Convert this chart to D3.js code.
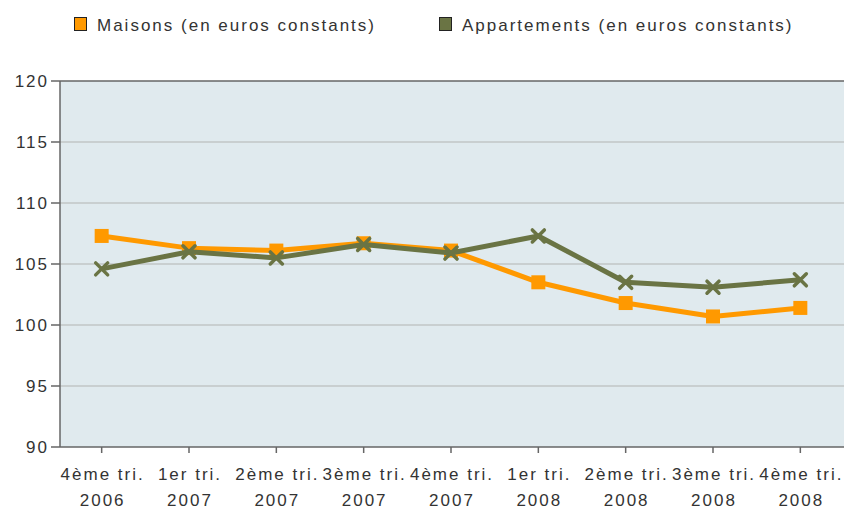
<!DOCTYPE html>
<html>
<head>
<meta charset="utf-8">
<script src="https://cdn.jsdelivr.net/npm/d3@7"></script>
<style>
  body { margin: 0; background: #fff; }
  text { font-family: "Liberation Sans", Arial, sans-serif; fill: #333; }
</style>
</head>
<body>
<div id="chart"></div>
<script>
// Data
const quarters = [
    ['4ème tri.', '2006'], ['1er tri.', '2007'], ['2ème tri.', '2007'],
    ['3ème tri.', '2007'], ['4ème tri.', '2007'], ['1er tri.', '2008'],
    ['2ème tri.', '2008'], ['3ème tri.', '2008'], ['4ème tri.', '2008']
];
const maisons = [107.3, 106.3, 106.1, 106.7, 106.1, 103.5, 101.8, 100.7, 101.4];
const appartements = [104.6, 106.0, 105.5, 106.6, 105.9, 107.3, 103.5, 103.1, 103.7];
const yTicks = [90, 95, 100, 105, 110, 115, 120];
const seriesNames = ['Maisons (en euros constants)', 'Appartements (en euros constants)'];

const width = 844, height = 509;
const plot = { left: 60, right: 844, top: 81, bottom: 447 };
const orange = '#ff9900', olive = '#6a7444';

const svg = d3.select('#chart').append('svg')
    .attr('width', width)
    .attr('height', height);

const x = d3.scaleBand()
    .domain(d3.range(quarters.length))
    .range([58, 844]);

const y = d3.scaleLinear()
    .domain([90, 120])
    .range([plot.bottom, plot.top]);

// Plot background
svg.append('rect')
    .attr('x', plot.left)
    .attr('y', plot.top)
    .attr('width', plot.right - plot.left)
    .attr('height', plot.bottom - plot.top)
    .attr('fill', '#e0eaee');

// Gridlines
svg.selectAll('.grid')
    .data(yTicks.filter(t => t !== 90 && t !== 120))
    .enter()
    .append('line')
    .attr('x1', plot.left)
    .attr('x2', plot.right)
    .attr('y1', d => y(d))
    .attr('y2', d => y(d))
    .attr('stroke', '#c2c6c6')
    .attr('stroke-width', 1.5);

// Borders
svg.append('line')
    .attr('x1', plot.left).attr('x2', plot.right)
    .attr('y1', plot.top).attr('y2', plot.top)
    .attr('stroke', '#666').attr('stroke-width', 1.5);
svg.append('line')
    .attr('x1', plot.left).attr('x2', plot.right)
    .attr('y1', plot.bottom).attr('y2', plot.bottom)
    .attr('stroke', '#666').attr('stroke-width', 1.5);
svg.append('line')
    .attr('x1', plot.left).attr('x2', plot.left)
    .attr('y1', plot.top).attr('y2', plot.bottom)
    .attr('stroke', '#666').attr('stroke-width', 1.5);

// Y axis ticks and labels
yTicks.forEach(t => {
    svg.append('line')
        .attr('x1', 51).attr('x2', plot.left)
        .attr('y1', y(t)).attr('y2', y(t))
        .attr('stroke', '#666').attr('stroke-width', 1.5);
    svg.append('text')
        .attr('x', 49)
        .attr('y', y(t))
        .attr('dy', '0.35em')
        .attr('text-anchor', 'end')
        .attr('font-size', '17px')
        .attr('letter-spacing', '2px')
        .text(t);
});

// X axis ticks and labels
quarters.forEach((q, i) => {
    const cx = x(i) + x.bandwidth() / 2;
    svg.append('line')
        .attr('x1', cx).attr('x2', cx)
        .attr('y1', plot.bottom).attr('y2', plot.bottom + 6)
        .attr('stroke', '#666').attr('stroke-width', 1.5);
    const t = svg.append('text')
        .attr('text-anchor', 'middle')
        .attr('font-size', '17px')
        .attr('letter-spacing', '2px');
    t.append('tspan').attr('x', cx + 1).attr('y', 480).text(q[0]);
    t.append('tspan').attr('x', cx + 1).attr('y', 506).text(q[1]);
});

const line = d3.line()
    .x((d, i) => x(i) + x.bandwidth() / 2)
    .y(d => y(d));

// Maisons line + square markers
svg.append('path')
    .datum(maisons)
    .attr('d', line)
    .attr('fill', 'none')
    .attr('stroke', orange)
    .attr('stroke-width', 5)
    .attr('stroke-linejoin', 'round');

svg.selectAll('.sq')
    .data(maisons)
    .enter()
    .append('rect')
    .attr('x', (d, i) => x(i) + x.bandwidth() / 2 - 7)
    .attr('y', d => y(d) - 7)
    .attr('width', 14)
    .attr('height', 14)
    .attr('fill', orange);

// Appartements line + cross markers
svg.append('path')
    .datum(appartements)
    .attr('d', line)
    .attr('fill', 'none')
    .attr('stroke', olive)
    .attr('stroke-width', 5)
    .attr('stroke-linejoin', 'round');

svg.selectAll('.cross')
    .data(appartements)
    .enter()
    .append('path')
    .attr('transform', (d, i) => `translate(${x(i) + x.bandwidth() / 2},${y(d)})`)
    .attr('d', 'M-6,-6L6,6M-6,6L6,-6')
    .attr('stroke', olive)
    .attr('stroke-width', 3.5)
    .attr('stroke-linecap', 'round');

// Legend
const legend = [
    { name: seriesNames[0], color: orange, x: 74 },
    { name: seriesNames[1], color: olive, x: 439 }
];
legend.forEach(l => {
    svg.append('rect')
        .attr('x', l.x + 0.5)
        .attr('y', 17.5)
        .attr('width', 12)
        .attr('height', 13)
        .attr('fill', l.color)
        .attr('stroke', '#222')
        .attr('stroke-width', 1);
    svg.append('text')
        .attr('x', l.x + 23)
        .attr('y', 31)
        .attr('font-size', '17px')
        .attr('letter-spacing', '2px')
        .text(l.name);
});
</script>
</body>
</html>
